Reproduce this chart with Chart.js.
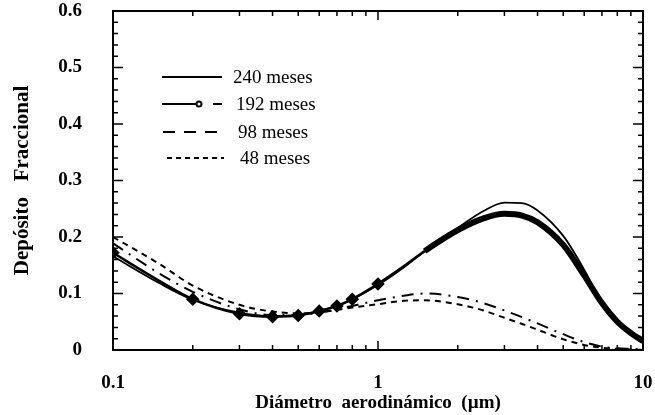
<!DOCTYPE html>
<html>
<head>
<meta charset="utf-8">
<script src="https://cdn.jsdelivr.net/npm/chart.js@4.4.1/dist/chart.umd.min.js"></script>
<style>
  html, body { margin: 0; padding: 0; background: #fff; }
  #wrap { width: 655px; height: 415px; position: relative; }
</style>
</head>
<body>
<div id="wrap"><canvas id="depChart"></canvas></div>
<script>
// diametro aerodinamico (um)
var diam = [0.1, 0.15, 0.2, 0.3, 0.4, 0.5, 0.6, 0.7, 0.8, 1, 1.25, 1.5, 2, 2.5, 3, 3.5, 4, 5, 6, 7, 8, 9, 10];

var m240 = [0.166, 0.118, 0.089, 0.066, 0.060, 0.062, 0.069, 0.078, 0.090, 0.115, 0.146, 0.175, 0.216, 0.246, 0.261, 0.260, 0.247, 0.202, 0.142, 0.082, 0.048, 0.027, 0.012];
var m192 = [0.172, 0.122, 0.090, 0.064, 0.059, 0.061, 0.069, 0.078, 0.090, 0.117, 0.148, 0.175, 0.212, 0.233, 0.241, 0.238, 0.226, 0.186, 0.132, 0.083, 0.050, 0.030, 0.016];
var m98  = [0.189, 0.135, 0.103, 0.072, 0.062, 0.062, 0.066, 0.072, 0.078, 0.088, 0.096, 0.100, 0.094, 0.083, 0.070, 0.058, 0.047, 0.028, 0.014, 0.006, 0.003, 0.002, 0.001];
var m48  = [0.200, 0.152, 0.114, 0.080, 0.068, 0.065, 0.067, 0.071, 0.075, 0.081, 0.087, 0.088, 0.081, 0.070, 0.057, 0.046, 0.036, 0.019, 0.009, 0.004, 0.002, 0.001, 0.000];

// diametros donde hay marcador en la serie de 192 meses
var m192Marks = [0.1, 0.2, 0.3, 0.4, 0.5, 0.6, 0.7, 0.8, 1];

var xTicks = [0.1, 0.2, 0.3, 0.4, 0.5, 0.6, 0.7, 0.8, 0.9, 1, 2, 3, 4, 5, 6, 7, 8, 9, 10];
var xLabels = [0.1, 1, 10];

function pts(ys) {
  return diam.map(function (d, i) { return { x: d, y: ys[i] }; });
}

var serif = "'Liberation Serif', 'DejaVu Serif', serif";

// ticks hacia adentro, marco y leyenda dentro del grafico
var framePlugin = {
  id: 'frame',
  afterDraw: function (chart) {
    var ctx = chart.ctx;
    var a = chart.chartArea;
    var sx = chart.scales.x, sy = chart.scales.y;
    ctx.save();
    ctx.strokeStyle = '#000';
    ctx.lineWidth = 2;
    ctx.strokeRect(a.left, a.top, a.right - a.left, a.bottom - a.top);
    ctx.lineWidth = 1.5;
    ctx.beginPath();
    xTicks.forEach(function (v) {
      var px = sx.getPixelForValue(v);
      var len = xLabels.indexOf(v) >= 0 ? 9 : 5;
      ctx.moveTo(px, a.bottom); ctx.lineTo(px, a.bottom - len);
      ctx.moveTo(px, a.top); ctx.lineTo(px, a.top + len);
    });
    sy.ticks.forEach(function (t) {
      var py = sy.getPixelForValue(t.value);
      var major = Math.abs(t.value * 10 - Math.round(t.value * 10)) < 1e-6;
      var len = major ? 10 : 5;
      ctx.moveTo(a.left, py); ctx.lineTo(a.left + len, py);
      ctx.moveTo(a.right, py); ctx.lineTo(a.right - len, py);
    });
    ctx.stroke();

    // leyenda
    var items = [
      { label: '240 meses', dash: [], y: 77, x0: 162, x1: 222, tx: 233 },
      { label: '192 meses', dash: [], y: 104, x0: 162, x1: 197, tx: 236, marker: true },
      { label: '98 meses', dash: [12, 9], y: 132, x0: 163, x1: 224, tx: 238 },
      { label: '48 meses', dash: [5, 4], y: 158, x0: 167, x1: 224, tx: 240 }
    ];
    ctx.font = '19px ' + serif;
    ctx.fillStyle = '#000';
    ctx.textBaseline = 'middle';
    items.forEach(function (it) {
      ctx.setLineDash(it.dash);
      ctx.lineWidth = 2;
      ctx.beginPath();
      ctx.moveTo(it.x0, it.y); ctx.lineTo(it.x1, it.y);
      ctx.stroke();
      if (it.marker) {
        ctx.setLineDash([]);
        ctx.beginPath();
        ctx.arc(199, it.y, 2.5, 0, Math.PI * 2);
        ctx.fillStyle = '#fff'; ctx.fill();
        ctx.stroke();
        ctx.fillStyle = '#000';
        ctx.beginPath();
        ctx.moveTo(213, it.y); ctx.lineTo(222, it.y);
        ctx.stroke();
      }
      ctx.setLineDash([]);
      ctx.fillText(it.label, it.tx, it.y + 1);
    });
    ctx.restore();
  }
};

var ctx = document.getElementById('depChart').getContext('2d');
var myChart = new Chart(ctx, {
  type: 'line',
  data: {
    datasets: [
      {
        label: '240 meses',
        data: pts(m240),
        borderColor: '#000',
        borderWidth: 1.8,
        pointRadius: 0,
        cubicInterpolationMode: 'monotone'
      },
      {
        label: '192 meses',
        data: pts(m192),
        borderColor: '#000',
        backgroundColor: '#000',
        borderWidth: 2.5,
        segment: {
          borderWidth: function (c) { return c.p0.parsed.x >= 1.5 ? 6 : 2.5; }
        },
        pointStyle: 'rectRot',
        pointRadius: function (c) { return c.raw && m192Marks.indexOf(c.raw.x) >= 0 ? 5 : 0; },
        cubicInterpolationMode: 'monotone'
      },
      {
        label: '98 meses',
        data: pts(m98),
        borderColor: '#000',
        borderWidth: 2,
        borderDash: [12, 7, 2, 7],
        pointRadius: 0,
        cubicInterpolationMode: 'monotone'
      },
      {
        label: '48 meses',
        data: pts(m48),
        borderColor: '#000',
        borderWidth: 2,
        borderDash: [6, 5],
        pointRadius: 0,
        cubicInterpolationMode: 'monotone'
      }
    ]
  },
  options: {
    responsive: true,
    maintainAspectRatio: false,
    animation: false,
    layout: { padding: { top: 11, right: 12, left: 0, bottom: 0 } },
    plugins: { legend: { display: false }, tooltip: { enabled: false } },
    scales: {
      x: {
        type: 'logarithmic',
        min: 0.1,
        max: 10,
        afterBuildTicks: function (s) { s.ticks = xTicks.map(function (v) { return { value: v }; }); },
        afterFit: function (s) { s.height = 65; s.paddingLeft = 0; s.paddingRight = 0; },
        grid: { display: false },
        border: { display: false },
        ticks: {
          autoSkip: false,
          maxRotation: 0,
          padding: 14,
          color: '#000',
          font: { family: serif, size: 19, weight: 'bold' },
          callback: function (v) { return xLabels.indexOf(v) >= 0 ? String(v) : ''; }
        },
        title: {
          display: true,
          text: 'Diámetro  aerodinámico  (µm)',
          color: '#000',
          font: { family: serif, size: 19, weight: 'bold' },
          padding: { top: 0, bottom: 1 }
        }
      },
      y: {
        min: 0,
        max: 0.6,
        afterFit: function (s) { s.width = 113; s.paddingTop = 0; s.paddingBottom = 0; },
        grid: { display: false },
        border: { display: false },
        ticks: {
          stepSize: 0.02,
          autoSkip: false,
          padding: 23,
          color: '#000',
          font: { family: serif, size: 19, weight: 'bold' },
          callback: function (v) {
            if (Math.abs(v * 10 - Math.round(v * 10)) > 1e-6) return '';
            return v < 1e-9 ? '0' : v.toFixed(1);
          }
        },
        title: {
          display: true,
          text: 'Depósito   Fraccional',
          color: '#000',
          font: { family: serif, size: 21, weight: 'bold' },
          padding: { top: 10, bottom: 0 }
        }
      }
    }
  },
  plugins: [framePlugin]
});
</script>
</body>
</html>
